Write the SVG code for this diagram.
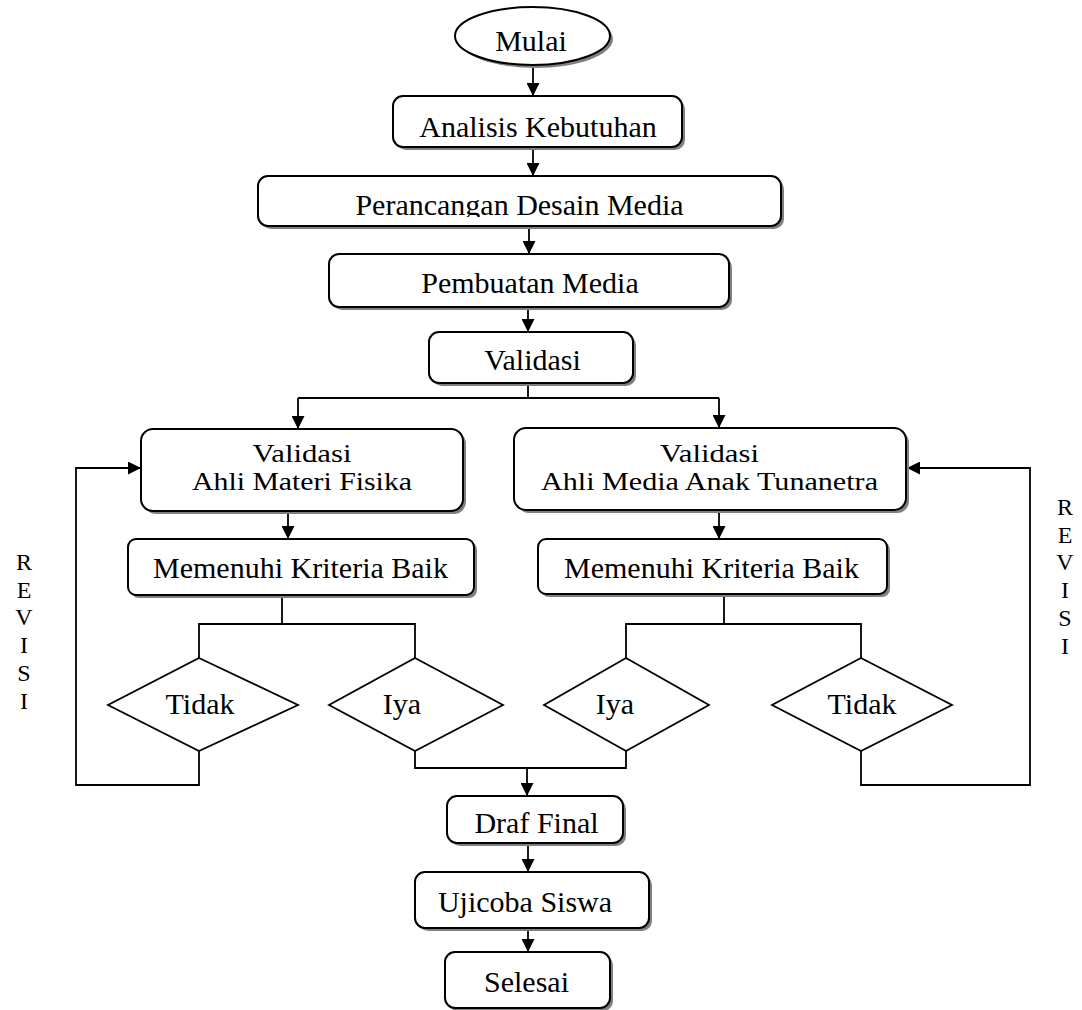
<svg xmlns="http://www.w3.org/2000/svg" width="1082" height="1010" viewBox="0 0 1082 1010">
<style>
.box{fill:#fff;stroke:#000;stroke-width:2}
.sh{fill:#808080;stroke:none}
.dia{fill:#fff;stroke:#000;stroke-width:1.8}
.ln{fill:none;stroke:#000;stroke-width:1.8}
text{font-family:"Liberation Serif","Times New Roman",serif;font-size:30px;fill:#000;text-anchor:middle}
.two{font-size:25px}
.rv{font-size:24px}
</style>
<defs>
<marker id="ah" markerUnits="userSpaceOnUse" markerWidth="13" markerHeight="13" refX="13" refY="6.5" orient="auto">
<path d="M0,0 L13,6.5 L0,13 z" fill="#000"/>
</marker>
<clipPath id="clipPer"><rect x="258" y="176" width="523" height="41"/></clipPath>
</defs>
<rect width="1082" height="1010" fill="#fff"/>

<g id="connectors">
<path class="ln" d="M533,65 V96" marker-end="url(#ah)"/>
<path class="ln" d="M533,147 V176" marker-end="url(#ah)"/>
<path class="ln" d="M529,227 V254" marker-end="url(#ah)"/>
<path class="ln" d="M528,307 V332" marker-end="url(#ah)"/>
<path class="ln" d="M528,383 V398 M298,398 H719"/>
<path class="ln" d="M298,398 V429" marker-end="url(#ah)"/>
<path class="ln" d="M719,398 V428" marker-end="url(#ah)"/>
<path class="ln" d="M288,511 V539" marker-end="url(#ah)"/>
<path class="ln" d="M719,510 V539" marker-end="url(#ah)"/>
<path class="ln" d="M282,595 V624 M199,658 V624 H415 V658"/>
<path class="ln" d="M724,594 V624 M626,658 V624 H861 V658"/>
<path class="ln" d="M199,751 V785 H76 V468 H141" marker-end="url(#ah)"/>
<path class="ln" d="M861,751 V785 H1030 V468 H907" marker-end="url(#ah)"/>
<path class="ln" d="M415,751 V768 H626 V751"/>
<path class="ln" d="M527,768 V796" marker-end="url(#ah)"/>
<path class="ln" d="M528,843 V872" marker-end="url(#ah)"/>
<path class="ln" d="M528,928 V952" marker-end="url(#ah)"/>
</g>

<g id="mulai">
<ellipse class="sh" cx="535.5" cy="39" rx="77.5" ry="29"/>
<ellipse class="box" cx="532.5" cy="36" rx="77.5" ry="29"/>
<text x="531" y="51">Mulai</text>
</g>

<g id="analisis">
<rect class="sh" x="396" y="99" width="289" height="51" rx="10"/>
<rect class="box" x="393" y="96" width="289" height="51" rx="10"/>
<text x="538" y="137">Analisis Kebutuhan</text>
</g>

<g id="perancangan">
<rect class="sh" x="261" y="179" width="523" height="50" rx="10"/>
<rect class="box" x="258" y="176" width="523" height="50" rx="10"/>
<text x="519.5" y="215" clip-path="url(#clipPer)">Perancangan Desain Media</text>
</g>

<g id="pembuatan">
<rect class="sh" x="332" y="257" width="400" height="53" rx="10"/>
<rect class="box" x="329" y="254" width="400" height="53" rx="10"/>
<text x="530" y="293">Pembuatan Media</text>
</g>

<g id="validasi">
<rect class="sh" x="432" y="335" width="204" height="51" rx="10"/>
<rect class="box" x="429" y="332" width="204" height="51" rx="10"/>
<text x="532.5" y="370">Validasi</text>
</g>

<g id="validasi-materi">
<rect class="sh" x="144" y="432" width="322" height="82" rx="12"/>
<rect class="box" x="141" y="429" width="322" height="82" rx="12"/>
<text class="two" x="302" y="462" textLength="99" lengthAdjust="spacingAndGlyphs">Validasi</text>
<text class="two" x="302" y="490" textLength="220" lengthAdjust="spacingAndGlyphs">Ahli Materi Fisika</text>
</g>

<g id="validasi-media">
<rect class="sh" x="517" y="431" width="392" height="82" rx="12"/>
<rect class="box" x="514" y="428" width="392" height="82" rx="12"/>
<text class="two" x="709.5" y="462" textLength="99" lengthAdjust="spacingAndGlyphs">Validasi</text>
<text class="two" x="709.5" y="490" textLength="337" lengthAdjust="spacingAndGlyphs">Ahli Media Anak Tunanetra</text>
</g>

<g id="memenuhi-kiri">
<rect class="sh" x="131" y="542" width="346" height="56" rx="8"/>
<rect class="box" x="128" y="539" width="346" height="56" rx="8"/>
<text x="300.5" y="578">Memenuhi Kriteria Baik</text>
</g>

<g id="memenuhi-kanan">
<rect class="sh" x="541" y="542" width="349" height="55" rx="8"/>
<rect class="box" x="538" y="539" width="349" height="55" rx="8"/>
<text x="711.5" y="578">Memenuhi Kriteria Baik</text>
</g>

<g id="tidak-kiri">
<polygon class="dia" points="199,658 298,705 199,751 108,705"/>
<text x="200" y="714">Tidak</text>
</g>

<g id="iya-kiri">
<polygon class="dia" points="415,658 503,705 415,751 329,705"/>
<text x="402" y="714">Iya</text>
</g>

<g id="iya-kanan">
<polygon class="dia" points="626,658 709,705 626,751 544,705"/>
<text x="615" y="714">Iya</text>
</g>

<g id="tidak-kanan">
<polygon class="dia" points="861,658 952,705 861,751 772,705"/>
<text x="862" y="714">Tidak</text>
</g>

<g id="revisi-kiri">
<text class="rv" x="24" y="570">R</text>
<text class="rv" x="24" y="598">E</text>
<text class="rv" x="24" y="625">V</text>
<text class="rv" x="24" y="653">I</text>
<text class="rv" x="24" y="681">S</text>
<text class="rv" x="24" y="709">I</text>
</g>

<g id="revisi-kanan">
<text class="rv" x="1065" y="515">R</text>
<text class="rv" x="1065" y="543">E</text>
<text class="rv" x="1065" y="570">V</text>
<text class="rv" x="1065" y="598">I</text>
<text class="rv" x="1065" y="626">S</text>
<text class="rv" x="1065" y="654">I</text>
</g>

<g id="draf-final">
<rect class="sh" x="450" y="799" width="176" height="47" rx="10"/>
<rect class="box" x="447" y="796" width="176" height="47" rx="10"/>
<text x="536.5" y="833">Draf Final</text>
</g>

<g id="ujicoba">
<rect class="sh" x="418" y="875" width="234" height="56" rx="10"/>
<rect class="box" x="415" y="872" width="234" height="56" rx="10"/>
<text x="525" y="912">Ujicoba Siswa</text>
</g>

<g id="selesai">
<rect class="sh" x="448" y="955" width="165" height="56" rx="10"/>
<rect class="box" x="445" y="952" width="165" height="56" rx="10"/>
<text x="526.5" y="992">Selesai</text>
</g>
</svg>
